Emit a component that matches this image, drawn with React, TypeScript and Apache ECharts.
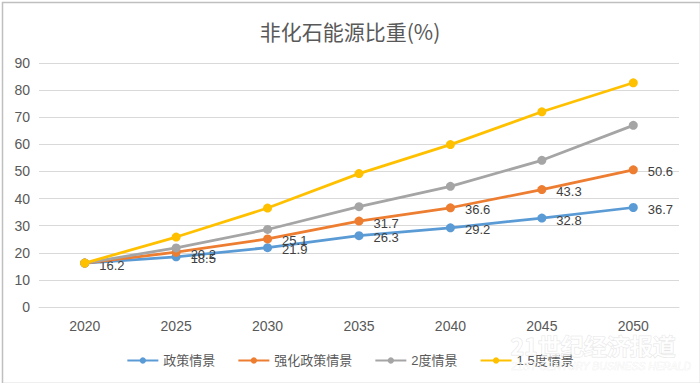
import React, { useEffect, useRef } from "react";
import * as echarts from "echarts";

const years = ["2020", "2025", "2030", "2035", "2040", "2045", "2050"];
const policy = [16.2, 18.5, 21.9, 26.3, 29.2, 32.8, 36.7];
const enhanced = [16.2, 20.2, 25.1, 31.7, 36.6, 43.3, 50.6];
const twoDegree = [16.2, 21.8, 28.6, 37.0, 44.5, 54.1, 67.0];
const onePointFive = [16.2, 25.8, 36.5, 49.2, 59.9, 72.0, 82.7];
const seriesNames = ["政策情景", "强化政策情景", "2度情景", "1.5度情景"];
const colors = ["#5B9BD5", "#ED7D31", "#A5A5A5", "#FFC000"];

export default function App() {
  const ref = useRef<HTMLDivElement>(null);
  useEffect(() => {
    if (!ref.current) return;
    const chart = echarts.init(ref.current, undefined, { renderer: "svg" });
    const font = "Arial, 'Liberation Sans', 'Noto Sans CJK SC', sans-serif";
    const mk = (i: number, data: number[], showLabel: boolean, hideFirst = false) => ({
      name: seriesNames[i],
      type: "line",
      data: data.map((v, k) => ({
        value: v,
        label: hideFirst && k === 0 ? { show: false } : undefined,
      })),
      symbol: "circle",
      symbolSize: 9,
      lineStyle: { width: 2.75, color: colors[i] },
      itemStyle: { color: colors[i] },
      label: {
        show: showLabel,
        position: "right",
        distance: 10,
        offset: [0, 2],
        color: "#404040",
        fontSize: 13,
        fontFamily: font,
      },
      z: 2 + i,
    });
    chart.setOption({
      animation: false,
      backgroundColor: "#ffffff",
      color: colors,
      title: {
        text: "非化石能源比重(%)",
        left: "center",
        top: 15,
        textStyle: {
          fontSize: 21,
          fontWeight: "normal",
          color: "#595959",
          fontFamily: "'Noto Sans CJK SC', sans-serif",
        },
      },
      grid: { left: 39, right: 21, top: 63, bottom: 76, containLabel: false },
      legend: {
        top: 349,
        left: "center",
        itemWidth: 31,
        itemHeight: 8,
        itemGap: 22,
        textStyle: { color: "#595959", fontSize: 13, fontFamily: font },
        data: seriesNames,
      },
      xAxis: {
        type: "category",
        data: years,
        boundaryGap: true,
        axisLine: { lineStyle: { color: "#d9d9d9", width: 1 } },
        axisTick: { show: false },
        axisLabel: { color: "#595959", fontSize: 14, margin: 12, fontFamily: font },
      },
      yAxis: {
        type: "value",
        min: 0,
        max: 90,
        interval: 10,
        axisLine: { show: false },
        axisTick: { show: false },
        axisLabel: { color: "#595959", fontSize: 14, margin: 9, fontFamily: font },
        splitLine: { lineStyle: { color: "#d9d9d9", width: 1 } },
      },
      graphic: [
        {
          type: "rect",
          left: 0,
          top: 0,
          shape: { x: 0.5, y: 0.5, width: 698, height: 381 },
          style: { fill: "none", stroke: "#bfbfbf", lineWidth: 1.5 },
          silent: true,
        },
        {
          type: "text",
          left: 510,
          top: 333,
          z: 100,
          style: {
            text: "21世纪经济报道",
            fontSize: 23,
            fontWeight: "bold",
            fill: "rgba(255,255,255,0.75)",
            stroke: "rgba(180,180,180,0.35)",
            lineWidth: 1,
            fontFamily: "'Noto Sans CJK SC', serif",
          },
          silent: true,
        },
        {
          type: "text",
          left: 511,
          top: 360,
          z: 100,
          style: {
            text: "21ST CENTURY BUSINESS HERALD",
            fontSize: 10.5,
            fontStyle: "italic",
            fill: "rgba(255,255,255,0.8)",
            stroke: "rgba(180,180,180,0.3)",
            lineWidth: 0.5,
            fontFamily: font,
          },
          silent: true,
        },
      ],
      series: [
        mk(0, policy, true),
        mk(1, enhanced, true, true),
        mk(2, twoDegree, false),
        mk(3, onePointFive, false),
      ],
    });
    return () => chart.dispose();
  }, []);
  return (
    <div
      ref={ref}
      style={{ position: "absolute", left: 0, top: 0, width: 700, height: 383 }}
    />
  );
}
